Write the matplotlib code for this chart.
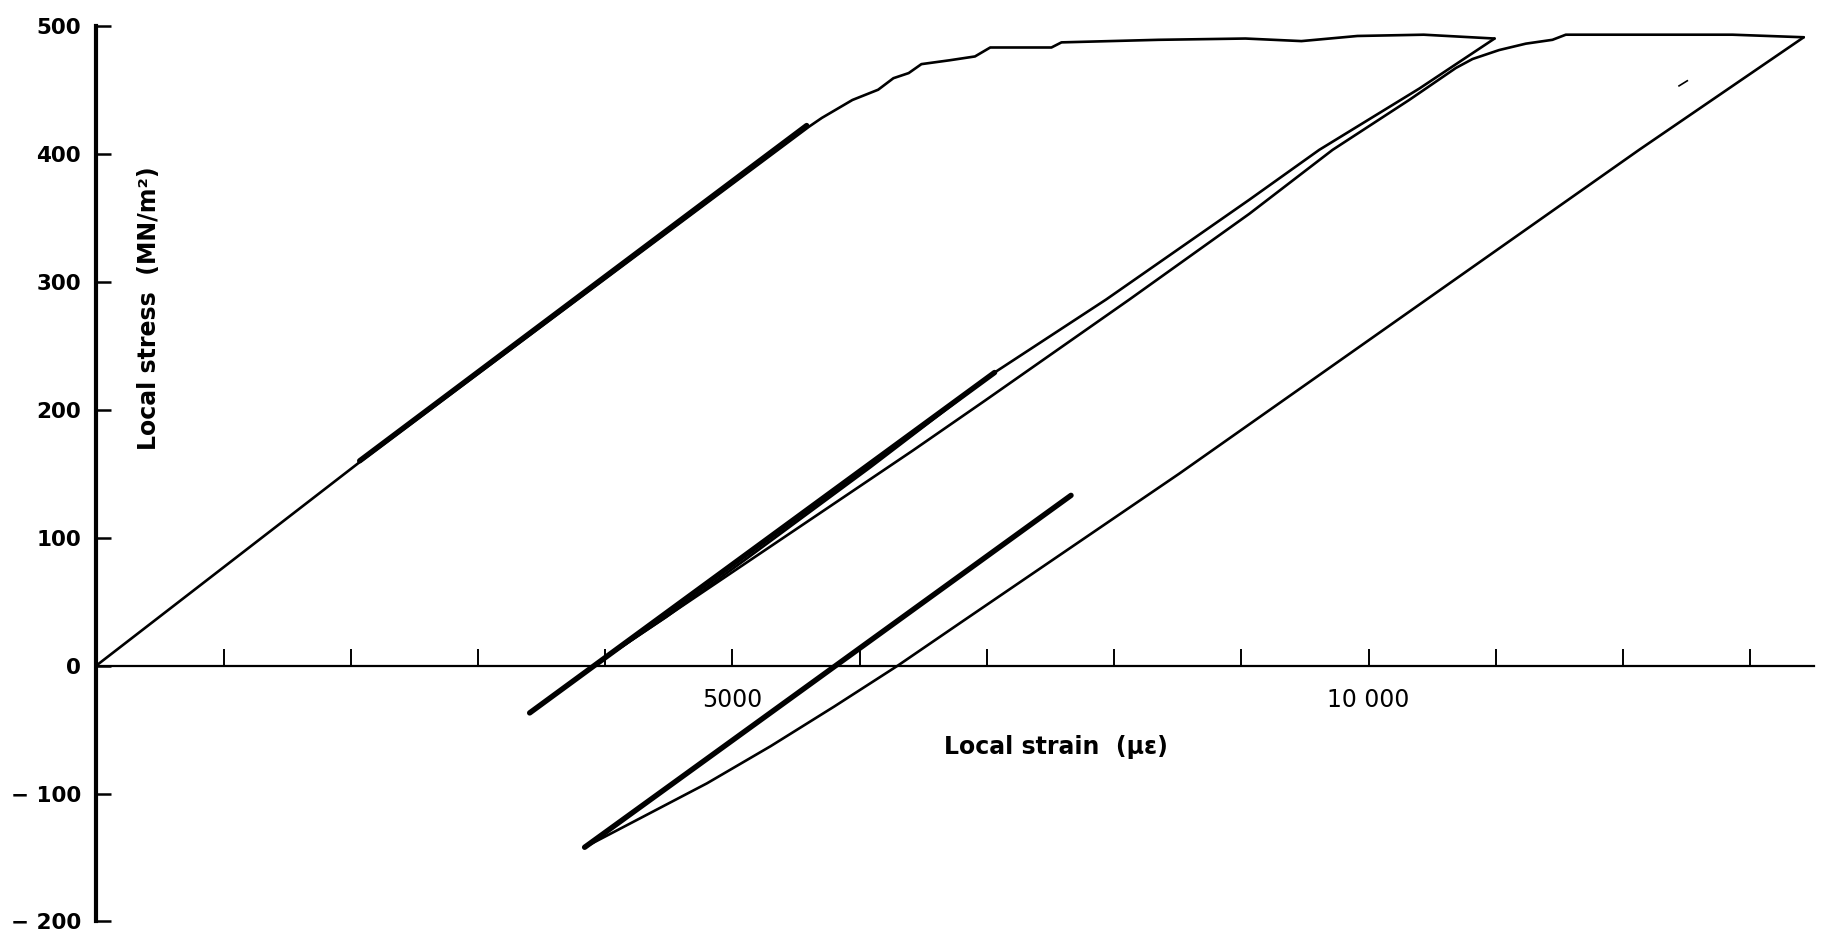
"""
局部应力-应变滞回曲线 (Local stress vs local strain)
"""
import matplotlib
matplotlib.use("Agg")
import matplotlib.pyplot as plt

# 第一次加载 (细线)
load1_strain = [0, 2070, 5600, 5703, 5943, 6145, 6265, 6385, 6485, 6706, 6906, 7026,
                7507, 7586, 8348, 9032, 9472, 9912, 10433, 10990]
load1_stress = [0, 159, 421, 428, 442, 450, 459, 463, 470, 473, 476, 483,
                483, 487, 489, 490, 488, 492, 493, 490]

# 第一次卸载
unload1_strain = [10990, 10400, 9612, 9062, 7936, 7060, 6085, 5090, 4480, 3910]
unload1_stress = [490, 451, 403, 364, 286, 229, 155, 82, 38, 0]

# 第二次加载
load2_strain = [3910, 4671, 5059, 6417, 6984, 8119, 9062, 9717, 10319,
                10686, 10817, 11026, 11236, 11445, 11550, 12074, 12860, 13420]
load2_stress = [0, 51, 77, 168, 207, 286, 353, 403, 442,
                467, 474, 481, 486, 489, 493, 493, 493, 491]

# 第二次卸载 (进入压缩)
unload2_strain = [13420, 12126, 8512, 6800, 6300, 5800, 5300, 4800, 4300, 3838]
unload2_stress = [491, 403, 150, 34, 0, -32, -63, -92, -118, -142]

# 粗线段 (循环带)
thick_strain = [[2070, 5583], [3406, 7060], [3838, 7661]]
thick_stress = [[160, 422], [-37, 229], [-142, 133]]

# 小划痕
mark_strain = [12440, 12505]
mark_stress = [453, 457]

x_ticks = list(range(1000, 14000, 1000))
x_labels = {5000: "5000", 10000: "10 000"}
y_ticks = [-200, -100, 0, 100, 200, 300, 400, 500]
y_labels = ["\u2212 200", "\u2212 100", "0", "100", "200", "300", "400", "500"]


def plot_hysteresis():
    """绘制滞回曲线"""
    fig = plt.figure(figsize=(18.21, 9.36), dpi=100)
    ax = fig.add_axes([0.0529, 0.0155, 0.9432, 0.957])

    thin = dict(color="black", lw=1.9, solid_joinstyle="round", solid_capstyle="round")
    ax.plot(load1_strain, load1_stress, **thin)
    ax.plot(unload1_strain, unload1_stress, **thin)
    ax.plot(load2_strain, load2_stress, **thin)
    ax.plot(unload2_strain, unload2_stress, **thin)
    ax.plot(mark_strain, mark_stress, color="black", lw=1.2)

    for xs, ys in zip(thick_strain, thick_stress):
        ax.plot(xs, ys, color="black", lw=3.9, solid_capstyle="round")

    # 坐标轴
    ax.set_xlim(0, 13500)
    ax.set_ylim(-200, 500)
    ax.spines["top"].set_visible(False)
    ax.spines["right"].set_visible(False)
    ax.spines["bottom"].set_position(("data", 0))
    ax.spines["bottom"].set_linewidth(1.6)
    ax.spines["left"].set_linewidth(3.0)

    ax.set_xticks(x_ticks)
    ax.set_xticklabels([x_labels.get(t, "") for t in x_ticks],
                       fontsize=17, family="DejaVu Sans")
    ax.tick_params(axis="x", direction="in", length=12, width=1.4, pad=16)

    ax.set_yticks(y_ticks)
    ax.set_yticklabels(y_labels, fontsize=15.5, fontweight="bold", family="DejaVu Sans")
    ax.tick_params(axis="y", direction="in", length=11, width=1.8, pad=11)

    ax.text(7545, -64, "Local strain  (\u03bc\u03b5)", fontsize=17, fontweight="bold",
            ha="center", va="center")
    ax.text(413, 279, "Local stress  (MN/m\u00b2)", fontsize=17, fontweight="bold",
            rotation=90, ha="center", va="center")
    return fig


def main():
    """主函数"""
    fig = plot_hysteresis()
    fig.savefig("out.png", dpi=100)


if __name__ == "__main__":
    main()
